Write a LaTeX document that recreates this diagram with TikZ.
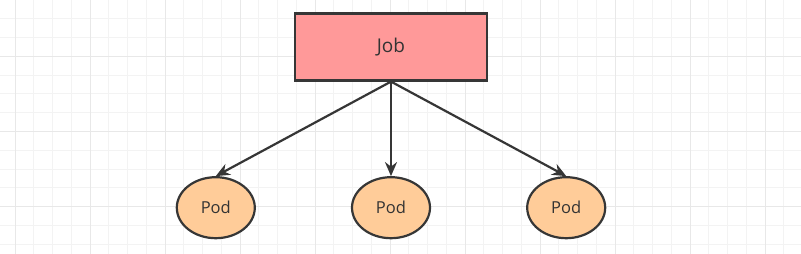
\documentclass[tikz,border=0pt]{standalone}
\usepackage{fontspec}
\setmainfont{Open Sans}
\usetikzlibrary{arrows.meta, positioning, shapes.geometric}
\definecolor{jobred}{HTML}{FF9999}
\definecolor{podorange}{HTML}{FFCC99}
\definecolor{edgegray}{HTML}{363636}
\definecolor{textgray}{HTML}{333333}
\definecolor{gridminor}{HTML}{F3F3F3}
\definecolor{gridmajor}{HTML}{E8E8E8}

\begin{document}
\begin{tikzpicture}[x=1pt, y=1pt, node distance=95pt,
                    every node/.style={text=textgray},
                    jobbox/.style={draw=edgegray, line width=2.2pt, fill=jobred,
                                   minimum width=192pt, minimum height=67pt,
                                   font=\fontsize{19}{21}\selectfont},
                    podnode/.style={ellipse, draw=edgegray, line width=2.2pt, fill=podorange,
                                    minimum width=78pt, minimum height=61pt, inner sep=0pt,
                                    font=\fontsize{16.5}{18}\selectfont},
                    arr/.style={-{Stealth[length=14pt, width=12pt]}, line width=2.2pt, draw=edgegray}]
    \useasboundingbox (0,0) rectangle (801,-254);
    \fill[white] (0,0) rectangle (801,-254);
    % background grid
    \foreach \i in {0,...,42} {
        \draw[gridminor, line width=1pt] (15+18.75*\i,0) -- (15+18.75*\i,-254);
    }
    \foreach \j in {0,...,12} {
        \draw[gridminor, line width=1pt] (0,-19-18.75*\j) -- (801,-19-18.75*\j);
    }
    \foreach \i in {0,...,10} {
        \draw[gridmajor, line width=1pt] (15+75*\i,0) -- (15+75*\i,-254);
    }
    \foreach \j in {0,...,3} {
        \draw[gridmajor, line width=1pt] (0,-56.5-75*\j) -- (801,-56.5-75*\j);
    }
    % nodes
    \node[jobbox] (job) at (391,-47) {Job};
    \node[podnode] (pod2) [below=94.5pt of job] {Pod};
    \node[podnode] (pod1) [left=95pt of pod2] {Pod};
    \node[podnode] (pod3) [right=95pt of pod2] {Pod};
    \draw[arr] (job.south)--(pod1.north);
    \draw[arr] (job.south)--(pod2.north);
    \draw[arr] (job.south)--(pod3.north);
\end{tikzpicture}
\end{document}
